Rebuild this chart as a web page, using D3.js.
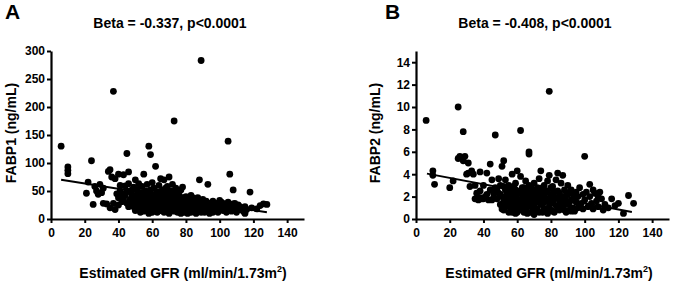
<!DOCTYPE html>
<html>
<head>
<meta charset="utf-8">
<script src="https://cdn.jsdelivr.net/npm/d3@7"></script>
<style>
  html, body { margin: 0; padding: 0; background: #fff; }
  svg { display: block; font-family: "Liberation Sans", Arial, sans-serif; font-weight: bold; }
</style>
</head>
<body>
<script>
// x ticks shared by both panels
const gfrTicks = [0, 20, 40, 60, 80, 100, 120, 140];
const fabp1Ticks = [0, 50, 100, 150, 200, 250, 300];
const fabp2Ticks = [0, 2, 4, 6, 8, 10, 12, 14];

// panel A: [eGFR, FABP1]
const pointsA = [
  [6,130],[10,93],[10,81],[10,87],[21,46],[22,66],[24,104],[25,26],[26,58],[27,50],[28,44],[29,62],[30,47],[31,28],[31,55],[33,27],[34,85],[35,88],[35,20],[36,75],[37,228],[37,28],[38,17],[38,72],[39,45],[40,80],[40,38],[41,50],[42,31],[43,79],[44,59],[44,42],[45,117],[46,84],[46,63],[47,35],[47,48],[48,28],[49,57],[49,22],
  [40,25],[41,60],[42,45],[43,35],[45,28],[45,50],[46,22],[48,40],[48,52],[49,33],
  [50,70],[50,42],[50,15],[51,30],[51,52],[52,18],[52,63],[52,38],[53,25],[53,47],[53,12],[54,33],[54,58],[54,20],[55,80],[55,40],[55,14],[56,27],[56,50],[56,35],[57,18],[57,45],[57,62],[58,130],[58,25],[58,38],[58,10],[59,115],[59,52],[59,30],[59,17],
  [50,25],[51,42],[52,28],[53,36],[54,45],[55,28],[56,20],[57,32],[58,48],[59,40],
  [60,44],[60,22],[60,65],[60,12],[61,35],[61,28],[61,55],[62,94],[62,18],[62,40],[63,25],[63,48],[63,32],[63,12],[64,60],[64,20],[64,37],[65,28],[65,45],[65,72],[65,15],[66,33],[66,52],[66,22],[67,40],[67,12],[67,28],[67,70],[68,18],[68,47],[68,35],[68,25],[69,58],[69,15],[69,30],[69,42],
  [60,33],[61,18],[62,28],[63,40],[64,28],[65,35],[66,42],[67,20],[68,55],[69,22],
  [70,22],[70,75],[70,36],[70,10],[71,50],[71,28],[71,18],[72,40],[72,62],[72,25],[73,175],[73,33],[73,14],[73,45],[74,20],[74,55],[74,30],[75,38],[75,12],[75,25],[75,48],[76,18],[76,32],[76,42],[77,22],[77,10],[77,52],[78,57],[78,28],[78,15],[78,38],[79,20],[79,33],[79,12],
  [70,45],[71,35],[72,15],[73,25],[74,40],[76,25],[77,30],[79,28],
  [80,25],[80,40],[80,15],[81,30],[81,20],[81,10],[82,35],[82,18],[83,25],[83,42],[83,12],[84,20],[84,30],[85,15],[85,35],[85,25],[86,18],[86,28],[86,10],[87,22],[87,38],[88,70],[88,15],[88,30],[89,283],[89,22],[89,12],
  [80,33],[82,25],[84,38],[86,22],[88,25],
  [90,28],[90,18],[90,35],[91,12],[91,25],[92,20],[92,32],[93,62],[93,15],[93,25],[94,20],[94,10],[95,28],[95,18],[96,32],[96,12],[97,22],[97,15],[98,28],[98,20],[99,12],[99,25],
  [90,22],[92,26],[94,28],[96,20],[98,15],
  [100,33],[100,18],[101,22],[102,15],[102,28],[103,20],[104,25],[104,12],[105,139],[105,30],[106,80],[106,18],[107,22],[107,14],[108,52],[108,27],[109,18],[110,22],[110,12],[111,25],[112,17],[113,20],[114,14],[115,22],[115,10],[116,17],[118,48],[119,20],[122,18],[124,24],[126,27],[128,26],
  [101,30],[103,16],[106,25],[109,28],[112,22]
];

// panel B: [eGFR, FABP2]
const pointsB = [
  [6,8.8],[10,4.3],[10,3.9],[11,3.1],[20,2.8],[22,3.4],[25,10],[25,5.4],[26,5.6],[28,7.8],[28,5.2],[29,5.6],[30,4.0],[31,5.0],[31,4.1],[32,2.9],[33,4.3],[34,4.0],[35,1.8],[35,3.0],[36,2.3],[37,1.7],[38,4.2],[38,2.5],[39,1.8],[40,3.0],[41,2.0],[42,4.1],[43,1.7],[44,4.9],[44,2.6],[45,3.5],[46,1.9],[47,7.5],[47,2.8],[48,1.8],[49,3.6],[49,2.3],
  [36,1.8],[38,1.9],[40,1.8],[42,2.2],[45,1.7],[46,2.3],[48,2.7],
  [50,1.3],[50,3.0],[51,4.7],[51,2.0],[52,5.2],[52,0.8],[52,1.6],[53,2.6],[53,3.5],[54,1.2],[54,2.2],[55,0.6],[55,1.8],[55,3.0],[56,2.5],[56,1.0],[57,4.0],[57,1.5],[58,2.0],[58,0.8],[59,3.2],[59,1.3],[59,2.6],
  [50,2.2],[51,0.9],[52,2.9],[53,1.1],[54,1.7],[55,2.5],[56,1.4],[57,0.6],[57,2.3],[58,1.6],[58,2.9],[59,0.5],
  [60,4.3],[60,1.8],[60,0.6],[61,2.3],[61,1.2],[62,7.9],[62,3.8],[62,1.6],[63,2.8],[63,0.9],[64,2.0],[64,1.4],[65,3.4],[65,2.5],[65,0.7],[66,1.8],[66,1.1],[67,6.0],[67,5.8],[67,2.2],[67,3.0],[68,1.5],[68,0.6],[69,2.6],[69,1.9],
  [60,2.5],[60,1.2],[61,1.7],[61,0.8],[62,2.3],[62,1.0],[63,1.8],[63,2.4],[64,0.6],[64,2.8],[65,1.5],[66,2.4],[66,0.5],[67,1.4],[68,2.1],[68,2.9],[69,1.0],
  [70,1.2],[70,3.2],[70,0.4],[71,2.2],[71,1.6],[72,2.8],[72,0.9],[73,1.9],[73,3.6],[74,4.3],[74,1.3],[74,2.5],[75,0.6],[75,2.0],[76,3.0],[76,1.5],[77,2.4],[77,0.8],[78,3.4],[78,1.8],[79,11.4],[79,1.1],[79,3.9],
  [70,2.0],[70,2.6],[71,0.9],[72,1.5],[72,2.2],[73,0.6],[73,2.7],[74,1.8],[75,1.3],[75,2.8],[76,0.9],[76,2.2],[77,1.6],[78,0.5],[78,2.5],[79,1.8],
  [80,2.2],[80,1.4],[81,2.9],[81,0.7],[82,1.8],[83,3.5],[83,1.2],[84,2.5],[84,4.1],[85,1.6],[85,0.8],[86,3.2],[86,2.0],[87,3.9],[87,1.1],[88,2.6],[88,1.5],[89,0.6],[89,2.1],
  [80,0.8],[80,2.8],[81,1.5],[82,2.4],[82,0.6],[83,1.9],[84,1.0],[85,2.3],[86,1.3],[87,2.0],[88,0.8],[89,1.6],
  [90,1.3],[90,3.0],[91,2.4],[91,0.8],[92,1.7],[93,2.2],[93,1.0],[94,0.7],[95,1.5],[96,2.0],[96,1.0],[97,2.8],[98,1.4],[99,2.2],[99,0.9],
  [90,2.2],[91,1.5],[92,0.7],[92,2.6],[94,1.8],[95,2.4],[97,1.2],
  [100,5.6],[100,1.7],[101,2.4],[102,1.1],[103,3.1],[103,2.0],[104,1.4],[105,2.6],[105,0.9],[106,2.3],[107,1.6],[108,2.0],[108,1.1],[109,2.4],[110,1.8],[111,0.8],[112,1.3],[114,1.0],[116,1.8],[118,1.2],[120,1.4],[123,0.5],[126,2.1],[129,1.4]
];

// fitted regression lines (end points)
const fitA = [[6, 70], [128, 12]];
const fitB = [[6.5, 4.05], [128, 0.62]];

const W = 674, H = 285;
const svg = d3.select("body").append("svg")
  .attr("width", W)
  .attr("height", H);

function panel(opts) {
  const x = d3.scaleLinear().domain([0, 150]).range([opts.left, opts.left + 253]);
  const y = d3.scaleLinear().domain(opts.yDomain).range([219, 51]);
  const g = svg.append("g");

  // panel letter
  g.append("text")
    .attr("x", opts.letterX)
    .attr("y", 19)
    .attr("font-size", 21)
    .text(opts.letter);

  // title
  g.append("text")
    .attr("x", opts.titleX)
    .attr("y", 28)
    .attr("text-anchor", "middle")
    .attr("font-size", 14)
    .text(opts.title);

  // points
  g.append("g")
    .selectAll("circle")
    .data(opts.points)
    .join("circle")
    .attr("cx", d => x(d[0]))
    .attr("cy", d => y(d[1]))
    .attr("r", 3.4)
    .attr("fill", "#000");

  // regression line
  g.append("path")
    .datum(opts.fit)
    .attr("fill", "none")
    .attr("stroke", "#000")
    .attr("stroke-width", 2)
    .attr("d", d3.line().x(d => x(d[0])).y(d => y(d[1])));

  // axes
  const xAxis = g.append("g")
    .attr("transform", `translate(0,${y(0)})`)
    .call(d3.axisBottom(x).tickValues(gfrTicks).tickSize(4).tickPadding(5).tickSizeOuter(0));
  const yAxis = g.append("g")
    .attr("transform", `translate(${x(0)},0)`)
    .call(d3.axisLeft(y).tickValues(opts.yTicks).tickSize(4).tickPadding(2).tickSizeOuter(0));

  [xAxis, yAxis].forEach(a => {
    a.select(".domain").attr("stroke", "#000").attr("stroke-width", 2.2);
    a.selectAll(".tick line").attr("stroke", "#000").attr("stroke-width", 2);
    a.selectAll(".tick text")
      .attr("fill", "#000")
      .attr("font-size", 12)
      .attr("font-weight", "bold")
      .attr("font-family", "'Liberation Sans', Arial, sans-serif");
  });

  // x axis label
  const xl = g.append("text")
    .attr("x", opts.xLabelX)
    .attr("y", 278)
    .attr("text-anchor", "middle")
    .attr("font-size", 14);
  xl.append("tspan").text("Estimated GFR (ml/min/1.73m");
  xl.append("tspan").attr("font-size", 9).attr("dy", -6).text("2");
  xl.append("tspan").attr("dy", 6).text(")");

  // y axis label
  g.append("text")
    .attr("transform", `translate(${opts.yLabelX},133) rotate(-90)`)
    .attr("text-anchor", "middle")
    .attr("font-size", 14)
    .text(opts.yLabel);
}

panel({
  left: 51, yDomain: [0, 300], yTicks: fabp1Ticks, points: pointsA, fit: fitA,
  letter: "A", letterX: 5, title: "Beta = -0.337, p<0.0001", titleX: 170,
  xLabelX: 183, yLabelX: 15.5, yLabel: "FABP1 (ng/mL)"
});

panel({
  left: 416, yDomain: [0, 15], yTicks: fabp2Ticks, points: pointsB, fit: fitB,
  letter: "B", letterX: 385, title: "Beta = -0.408, p<0.0001", titleX: 535,
  xLabelX: 549, yLabelX: 380, yLabel: "FABP2 (ng/mL)"
});
</script>
</body>
</html>
